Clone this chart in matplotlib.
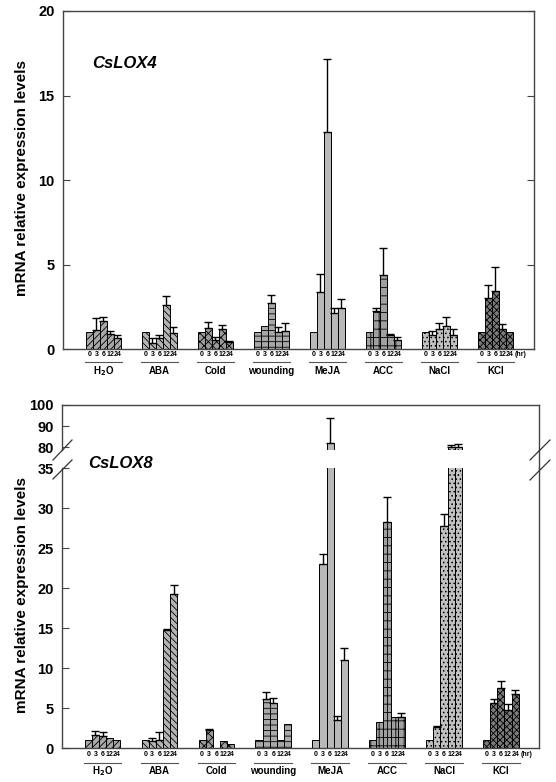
import matplotlib
matplotlib.use('Agg')
import matplotlib.pyplot as plt
import numpy as np
from matplotlib.transforms import blended_transform_factory
from matplotlib.lines import Line2D

plt.rcParams['font.family'] = ['Liberation Sans', 'DejaVu Sans']
plt.rcParams['hatch.linewidth'] = 0.6
plt.rcParams['mathtext.default'] = 'bf'

treatments = ['H$_2$O', 'ABA', 'Cold', 'wounding', 'MeJA', 'ACC', 'NaCl', 'KCl']
hours = ['0', '3', '6', '12', '24']

# CsLOX4 means and upper error bars (per treatment, hours 0,3,6,12,24)
lox4_mean = [
    [1.0, 1.1, 1.65, 0.9, 0.65],
    [1.0, 0.35, 0.65, 2.6, 0.95],
    [1.0, 1.25, 0.55, 1.2, 0.4],
    [1.0, 1.35, 2.75, 1.0, 1.05],
    [1.0, 3.35, 12.85, 2.15, 2.45],
    [1.0, 2.25, 4.4, 0.8, 0.55],
    [1.0, 0.85, 1.2, 1.35, 0.85],
    [1.0, 3.0, 3.45, 1.2, 1.0],
]
lox4_err = [
    [0, 0.75, 0.25, 0.15, 0.2],
    [0, 0.33, 0.18, 0.55, 0.37],
    [0, 0.35, 0.18, 0.24, 0.06],
    [0, 0, 0.43, 0.3, 0.47],
    [0, 1.1, 4.3, 0.3, 0.5],
    [0, 0.2, 1.6, 0.1, 0.15],
    [0, 0.2, 0.35, 0.55, 0.35],
    [0, 0.8, 1.4, 0.3, 0],
]
# CsLOX8
lox8_mean = [
    [1.0, 1.65, 1.55, 1.25, 1.0],
    [1.0, 0.9, 1.05, 14.7, 19.2],
    [1.0, 2.25, 0.05, 0.9, 0.55],
    [1.0, 6.1, 5.6, 1.0, 3.05],
    [1.0, 23.0, 82.0, 3.5, 11.0],
    [1.0, 3.2, 28.2, 3.9, 3.85],
    [1.0, 2.6, 27.7, 79.8, 79.9],
    [1.0, 5.6, 7.5, 4.8, 6.75],
]
lox8_err = [
    [0, 0.5, 0.5, 0, 0],
    [0, 0.35, 0.95, 0.2, 1.2],
    [0, 0.15, 0, 0, 0],
    [0, 0.85, 0.6, 0, 0],
    [0, 1.25, 12.0, 0.55, 1.45],
    [0, 0, 3.2, 0, 0.5],
    [0, 0.2, 1.6, 1.3, 1.4],
    [0, 0.5, 0.9, 0.75, 0.5],
]

hatches = ['/////', '\\\\\\\\\\', 'xxxx', '---', '', '++', '....', 'xxxxx']
fills = ['#a8a8a8', '#b4b4b4', '#9a9a9a', '#a8a8a8', '#b8b8b8', '#a0a0a0', '#c0c0c0', '#7a7a7a']

W, H = 556, 782
fig = plt.figure(figsize=(W / 100, H / 100), dpi=100)


def fx(px):
    return px / W


def fy(py):
    return 1 - py / H


w = 0.125
offs = (np.arange(5) - 2) * w
narrow = ['Liberation Sans Narrow', 'Liberation Sans', 'DejaVu Sans']


def draw_bars(ax, means, errs):
    for i in range(len(means)):
        x = i + offs
        m = np.array(means[i])
        e = np.array(errs[i], dtype=float)
        ax.bar(x, m, w, color=fills[i], edgecolor='black', hatch=hatches[i],
               linewidth=0.7)
        mask = e > 0
        if mask.any():
            ax.errorbar(x[mask], m[mask], yerr=[np.zeros(mask.sum()), e[mask]],
                        fmt='none', ecolor='black', elinewidth=1.0, capsize=2.6,
                        capthick=1.0)


def style(ax, right_ticks=True):
    for s in ax.spines.values():
        s.set_color('#444444')
        s.set_linewidth(1.0)
    ax.tick_params(axis='y', direction='in', length=5, width=0.8, color='#444444',
                   labelsize=10.5, right=right_ticks, pad=6)
    for t in ax.get_yticklabels():
        t.set_fontweight('bold')


def xlabels(ax, y_tick_px, y_line_px, y_name_px):
    trans = blended_transform_factory(ax.transData, fig.transFigure)
    for i in range(len(treatments)):
        for j in range(5):
            ax.text(i + offs[j], fy(y_tick_px), hours[j], transform=trans,
                    ha='center', va='center', fontsize=5.0, fontweight='bold',
                    family=narrow, clip_on=False)
        ax.add_line(Line2D([i - 0.33, i + 0.33], [fy(y_line_px)] * 2,
                           transform=trans, color='#555555', lw=0.8,
                           clip_on=False))
        ax.text(i, fy(y_name_px), treatments[i], transform=trans, ha='center',
                va='center', fontsize=7, fontweight='bold', clip_on=False)
    ax.text(7 + offs[4] + 0.2, fy(y_tick_px), '(hr)', transform=trans,
            ha='center', va='center', fontsize=5.0, fontweight='bold',
            family=narrow, clip_on=False)


# ---------------- top chart ----------------
ax1 = fig.add_axes([fx(63), fy(349), fx(534) - fx(63), fy(11) - fy(349)])
draw_bars(ax1, lox4_mean, lox4_err)
ax1.set_ylim(0, 20)
ax1.set_yticks([0, 5, 10, 15, 20])
ax1.set_xlim(-0.723, 7.688)
ax1.set_xticks([])
style(ax1)
xlabels(ax1, 355, 362, 371)
ax1.text(fx(92), fy(64), 'CsLOX4', transform=fig.transFigure, fontsize=12,
         fontweight='bold', fontstyle='italic', va='center', ha='left')

# ---------------- bottom chart ----------------
left, right = 62, 539
xl = (-0.712, 7.67)
ax_hi = fig.add_axes([fx(left), fy(450), fx(right) - fx(left), fy(405) - fy(450)])
ax_lo = fig.add_axes([fx(left), fy(748), fx(right) - fx(left), fy(468) - fy(748)])
for ax in (ax_hi, ax_lo):
    draw_bars(ax, lox8_mean, lox8_err)
    ax.set_xlim(*xl)
    ax.set_xticks([])
ax_hi.set_ylim(78.6, 100)
ax_hi.set_yticks([80, 90, 100])
ax_lo.set_ylim(0, 35)
ax_lo.set_yticks([0, 5, 10, 15, 20, 25, 30, 35])
style(ax_hi, right_ticks=False)
style(ax_lo, right_ticks=False)
ax_hi.spines['bottom'].set_visible(False)
ax_lo.spines['top'].set_visible(False)
xlabels(ax_lo, 755, 763, 771)

# right spine continuous through gap
fig.add_artist(Line2D([fx(right), fx(right)], [fy(450), fy(468)],
                      transform=fig.transFigure, color='#444444', lw=1.0))
# break marks
for (x0, y0, x1, y1) in [(53, 460, 72, 440), (53, 479, 72, 460),
                         (530, 460, 550, 440), (530, 480, 550, 460)]:
    fig.add_artist(Line2D([fx(x0), fx(x1)], [fy(y0), fy(y1)],
                          transform=fig.transFigure, color='#333333', lw=0.9))

fig.text(fx(88), fy(464), 'CsLOX8', fontsize=12, fontweight='bold',
         fontstyle='italic', va='center', ha='left')

# y labels
fig.text(fx(22), fy(178), 'mRNA relative expression levels', rotation=90,
         ha='center', va='center', fontsize=11, fontweight='bold')
fig.text(fx(22), fy(595), 'mRNA relative expression levels', rotation=90,
         ha='center', va='center', fontsize=11, fontweight='bold')

fig.savefig('out.png', dpi=100)
